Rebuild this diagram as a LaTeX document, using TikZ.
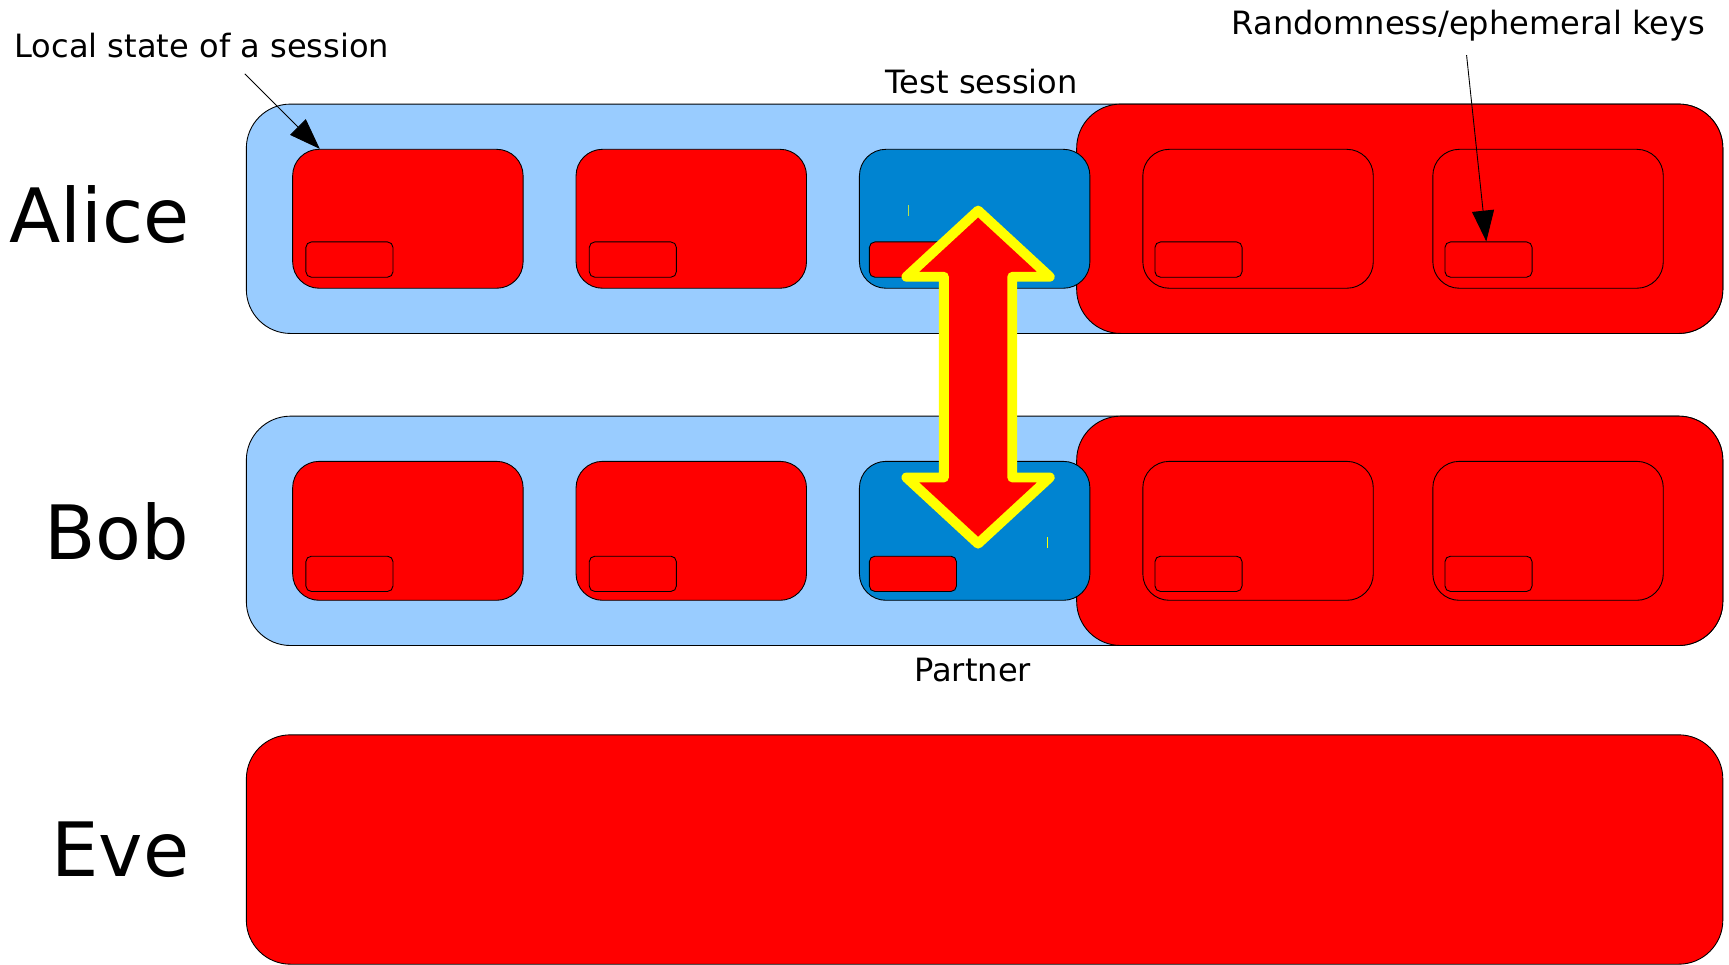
\documentclass[tikz,border=0pt]{standalone}
\usepackage{fontspec}
\setmainfont{DejaVu Sans}
\usetikzlibrary{arrows.meta}
\definecolor{lightblue}{HTML}{99CCFF}
\definecolor{pred}{HTML}{FF0000}
\definecolor{tblue}{HTML}{0084D1}
\definecolor{pyellow}{HTML}{FFFF00}
\definecolor{tick}{HTML}{B8E04A}
\begin{document}
\begin{tikzpicture}[x=1pt,y=-1pt,
  rowbox/.style={draw=black, line width=0.8pt, rounded corners=40pt, anchor=north west, inner sep=0pt, minimum height=208pt},
  sessbox/.style={draw=black, line width=0.8pt, rounded corners=24pt, anchor=north west, inner sep=0pt, minimum width=209pt, minimum height=126pt},
  keybox/.style={draw=black, line width=0.8pt, rounded corners=5pt, anchor=north west, inner sep=0pt, minimum width=79pt, minimum height=32pt},
  partyname/.style={font=\fontsize{68}{82}\selectfont, anchor=base east, inner sep=0pt},
  note/.style={font=\fontsize{29.1}{34}\selectfont, anchor=base west, inner sep=0pt},
  pointer/.style={line width=0.8pt, -{Triangle[length=28pt,width=20pt]}},
  bigarrow/.style={draw=pyellow, fill=pred, line width=9pt, line join=round},
]
\useasboundingbox (0,0) rectangle (1568,875);

% ---------- Alice ----------
\node[rowbox, fill=lightblue, minimum width=1339pt] (aliceRow) at (223,94) {};
\node[rowbox, fill=pred, minimum width=586pt] (aliceRed) at (976,94) {};
\node[sessbox, fill=pred] (a1) at (265,135) {};
\node[sessbox, fill=pred] (a2) at (522,135) {};
\node[sessbox, fill=tblue] (a3) at (779,135) {};
\node[sessbox, fill=pred] (a4) at (1036,135) {};
\node[sessbox, fill=pred] (a5) at (1299,135) {};
\node[keybox, fill=pred] (a1k) at (277,219) {};
\node[keybox, fill=pred] (a2k) at (534,219) {};
\node[keybox, fill=pred] (a3k) at (788,219) {};
\node[keybox, fill=pred] (a4k) at (1047,219) {};
\node[keybox, fill=pred] (a5k) at (1310,219) {};
\draw[tick, line width=1pt] (824,186) -- (824,196);

% ---------- Bob ----------
\node[rowbox, fill=lightblue, minimum width=1339pt] (bobRow) at (223,377) {};
\node[rowbox, fill=pred, minimum width=586pt] (bobRed) at (976,377) {};
\node[sessbox, fill=pred] (b1) at (265,418) {};
\node[sessbox, fill=pred] (b2) at (522,418) {};
\node[sessbox, fill=tblue] (b3) at (779,418) {};
\node[sessbox, fill=pred] (b4) at (1036,418) {};
\node[sessbox, fill=pred] (b5) at (1299,418) {};
\node[keybox, fill=pred] (b1k) at (277,504) {};
\node[keybox, fill=pred] (b2k) at (534,504) {};
\node[keybox, fill=pred] (b3k) at (788,504) {};
\node[keybox, fill=pred] (b4k) at (1047,504) {};
\node[keybox, fill=pred] (b5k) at (1310,504) {};
\draw[pyellow, line width=1pt] (950,487) -- (950,497);

% ---------- Eve ----------
\node[rowbox, fill=pred, minimum width=1339pt] (eveRow) at (223,666) {};

% ---------- names ----------
\node[partyname] (alice) at (172,220) {Alice};
\node[partyname] (bob) at (172,507) {Bob};
\node[partyname] (eve) at (172,795) {Eve};

% ---------- notes ----------
\node[note] (local) at (13,52) {Local state of a session};
\node[note] (rand) at (1117,31) {Randomness/ephemeral keys};
\node[note] (test) at (803,85) {Test session};
\node[note] (partner) at (829,618) {Partner};

\coordinate (localStart) at (222,67);
\coordinate (randStart) at (1330,50);
\draw[pointer] (localStart) -- ([xshift=25pt]a1.north west);
\draw[pointer] (randStart) -- ([xshift=-2pt]a5k.north);

% ---------- double block arrow ----------
\draw[bigarrow] (887,191) -- (952,251) -- (918,251) -- (918,433) -- (952,433)
  -- (887,493) -- (822,433) -- (856,433) -- (856,251) -- (822,251) -- cycle;
\end{tikzpicture}
\end{document}
